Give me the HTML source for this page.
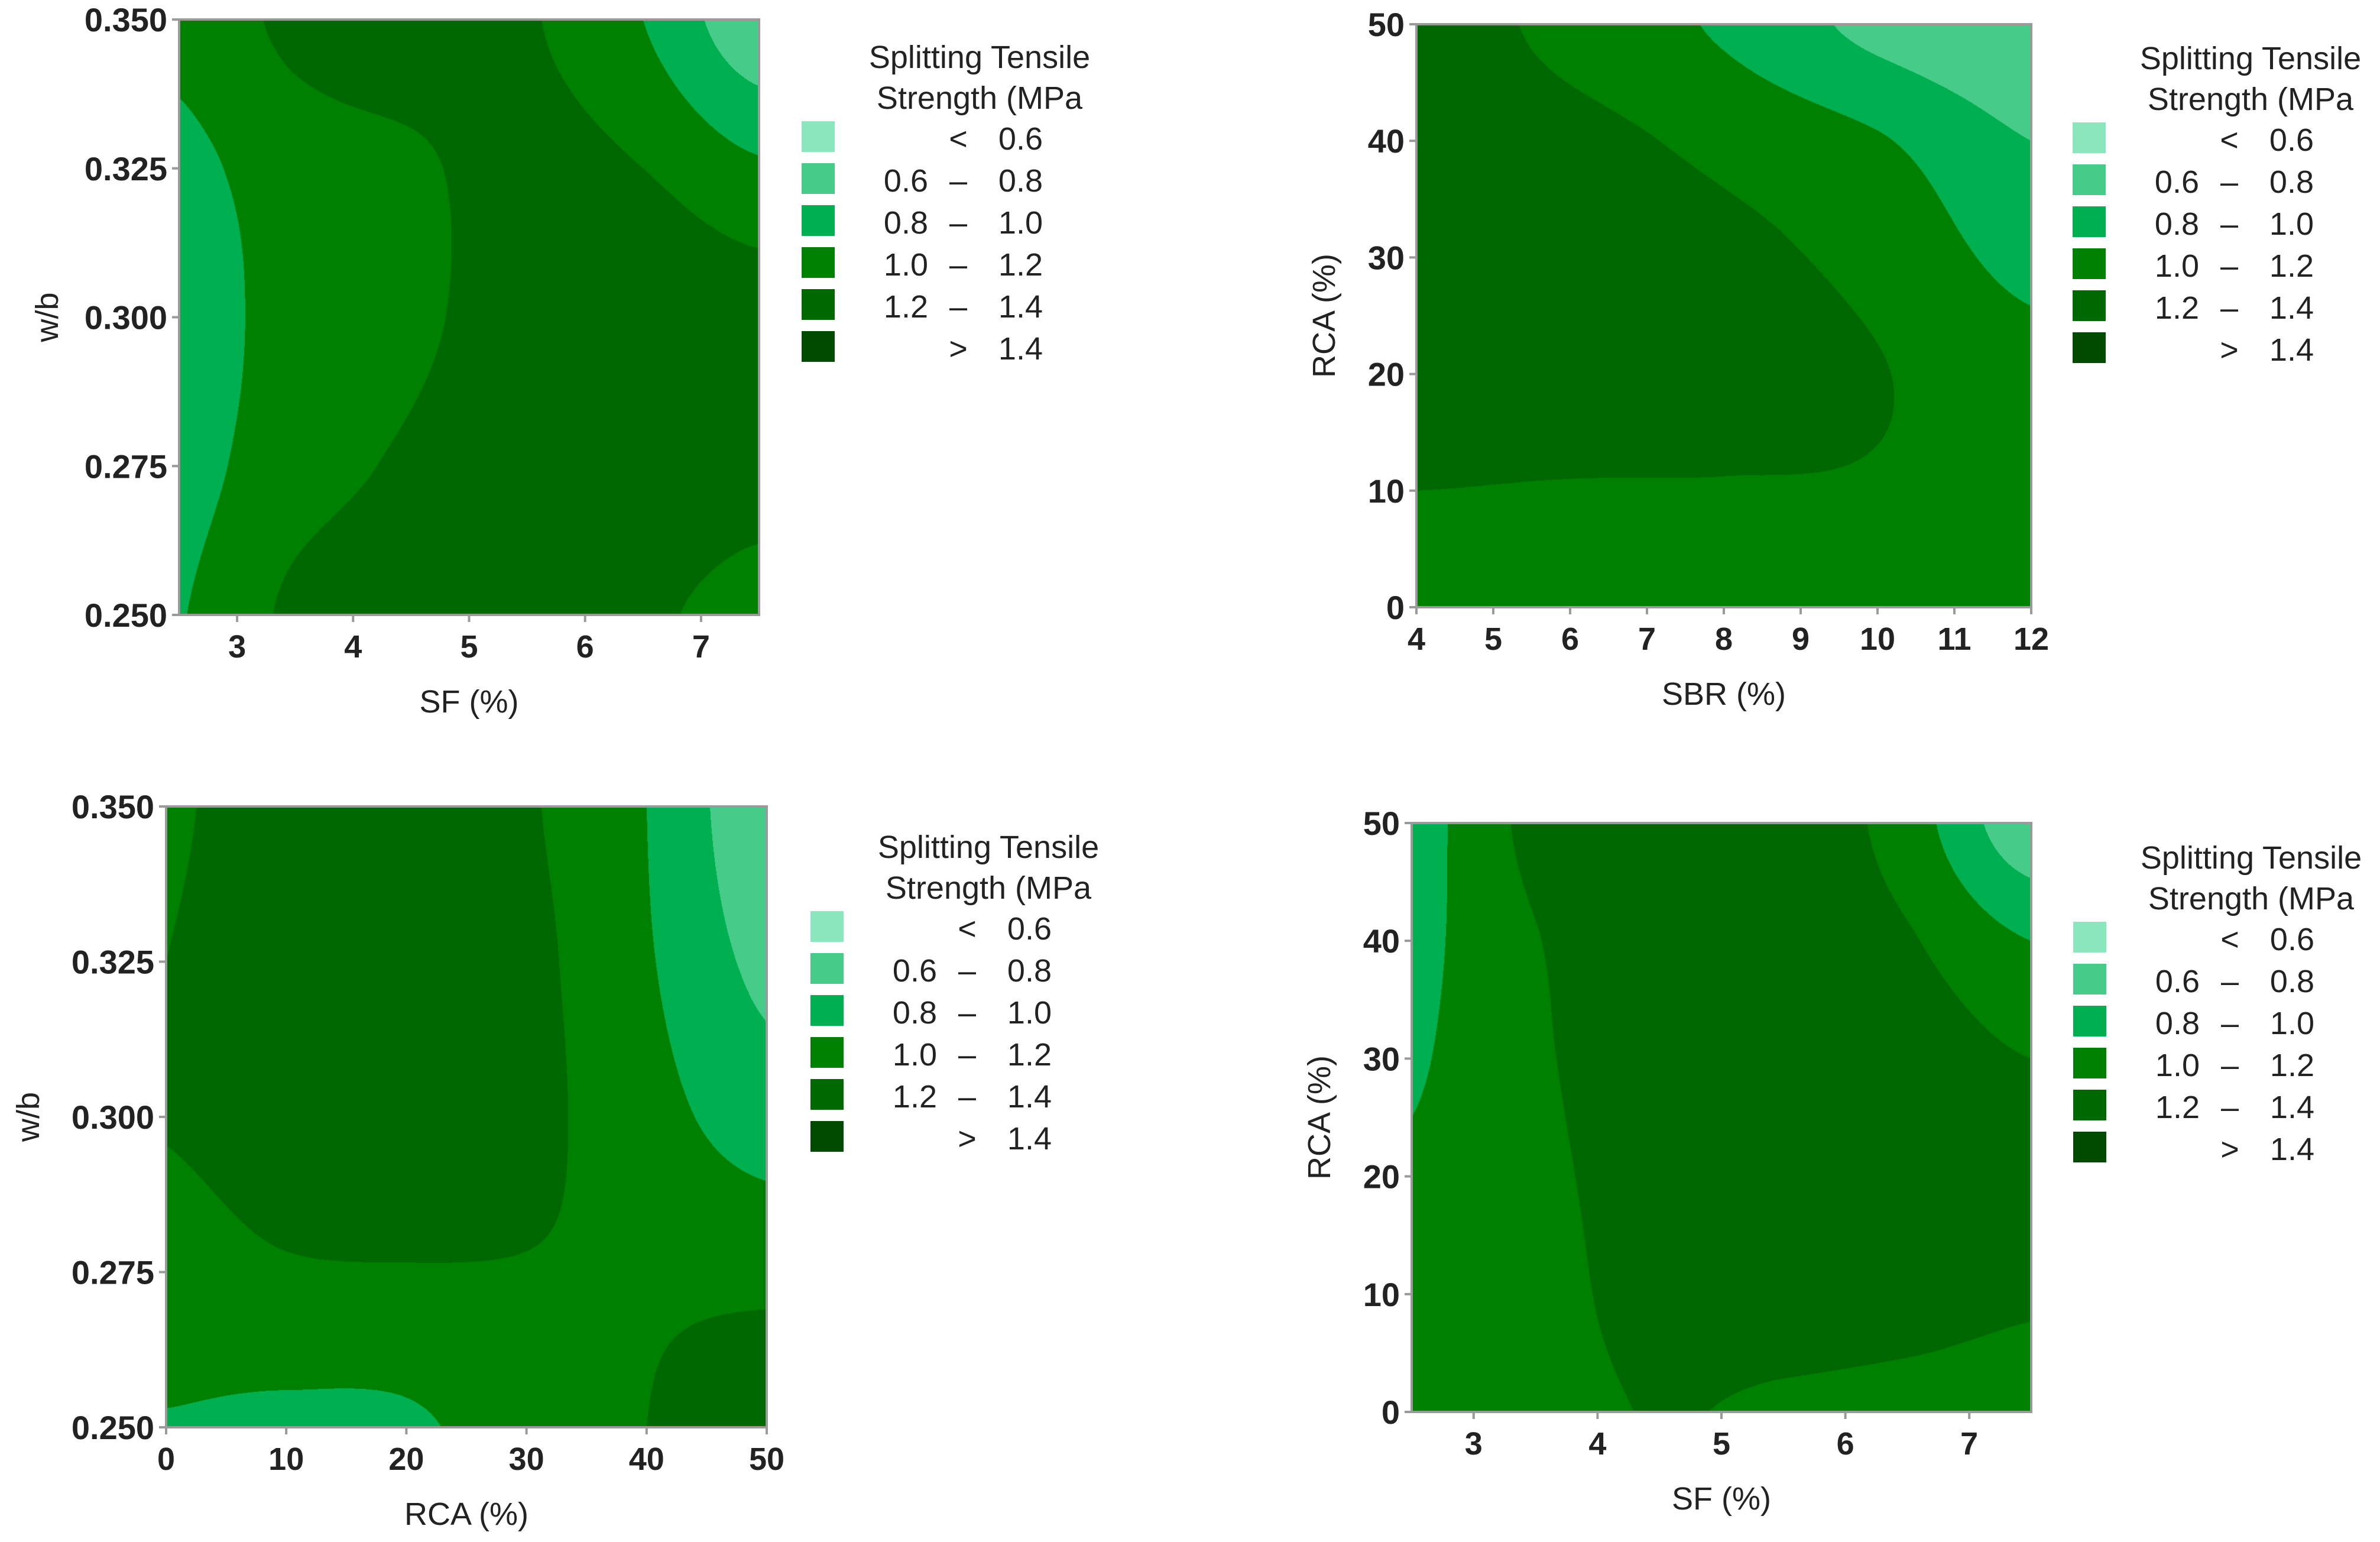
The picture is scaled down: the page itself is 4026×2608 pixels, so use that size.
<!DOCTYPE html>
<html><head><meta charset="utf-8">
<style>
html,body{margin:0;padding:0;background:#fff;}
#wrap{position:relative;width:4026px;height:2608px;overflow:hidden;}
canvas{position:absolute;}
svg{position:absolute;left:0;top:0;}
text{font-family:"Liberation Sans",sans-serif;fill:#222;}
</style></head>
<body>
<div id="wrap">
<canvas id="c0"></canvas>
<canvas id="c1"></canvas>
<canvas id="c2"></canvas>
<canvas id="c3"></canvas>
<svg id="s" width="4026" height="2608"></svg>
</div>
<script>
// ---- data ----
const levels = [0.6, 0.8, 1.0, 1.2, 1.4];
const levelColors = ["#8ae6bc","#46cc88","#00b050","#008000","#006800","#004b00"];
const legendLeft = ["", "0.6", "0.8", "1.0", "1.2", ""];
const legendMid = ["<", "–", "–", "–", "–", ">"];
const legendRight = ["0.6", "0.8", "1.0", "1.2", "1.4", "1.4"];

// Panel 1: SF (x) vs w/b (y); rows from bottom (y=0.25) to top (0.35)
const p1X = [2.5, 3.5, 4.5, 5.5, 6.5, 7.5];
const p1Y = [0.25, 0.275, 0.30, 0.325, 0.35];
const p1Z = [
 [0.99, 1.24, 1.30, 1.33, 1.24, 1.12],
 [0.93, 1.12, 1.23, 1.34, 1.35, 1.29],
 [0.90, 1.08, 1.16, 1.30, 1.35, 1.30],
 [0.95, 1.10, 1.17, 1.27, 1.20, 1.03],
 [1.05, 1.25, 1.30, 1.22, 1.00, 0.65]];
const p1XTicks = [3, 4, 5, 6, 7];
const p1YTicks = ["0.250", "0.275", "0.300", "0.325", "0.350"];

// Panel 2: SBR (x) vs RCA (y)
const p2X = [4, 6, 8, 10, 12];
const p2Y = [0, 10, 20, 30, 40, 50];
const p2Z = [
 [1.10, 1.12, 1.12, 1.10, 1.05],
 [1.20, 1.19, 1.19, 1.18, 1.10],
 [1.30, 1.30, 1.27, 1.21, 1.07],
 [1.32, 1.30, 1.25, 1.14, 0.94],
 [1.32, 1.26, 1.15, 1.02, 0.80],
 [1.30, 1.14, 0.97, 0.74, 0.62]];
const p2XTicks = [4, 5, 6, 7, 8, 9, 10, 11, 12];
const p2YTicks = ["0", "10", "20", "30", "40", "50"];

// Panel 3: RCA (x) vs w/b (y)
const p3X = [0, 10, 20, 30, 40, 50];
const p3Y = [0.25, 0.275, 0.30, 0.325, 0.35];
const p3Z = [
 [0.99, 0.96, 0.97, 1.10, 1.20, 1.32],
 [1.12, 1.18, 1.19, 1.19, 1.17, 1.15],
 [1.21, 1.28, 1.30, 1.25, 1.08, 0.90],
 [1.20, 1.30, 1.32, 1.25, 1.02, 0.75],
 [1.18, 1.28, 1.30, 1.22, 1.00, 0.65]];
const p3XTicks = [0, 10, 20, 30, 40, 50];
const p3YTicks = ["0.250", "0.275", "0.300", "0.325", "0.350"];

// Panel 4: SF (x) vs RCA (y)
const p4X = [2.5, 3.5, 4.5, 5.5, 6.5, 7.5];
const p4Y = [0, 10, 20, 30, 40, 50];
const p4Z = [
 [1.05, 1.12, 1.21, 1.16, 1.12, 1.08],
 [1.05, 1.13, 1.28, 1.33, 1.30, 1.23],
 [1.02, 1.15, 1.30, 1.35, 1.32, 1.26],
 [0.98, 1.17, 1.33, 1.36, 1.30, 1.20],
 [0.95, 1.19, 1.36, 1.35, 1.22, 1.00],
 [0.92, 1.26, 1.385, 1.34, 1.10, 0.65]];
const p4XTicks = [3, 4, 5, 6, 7];
const p4YTicks = ["0", "10", "20", "30", "40", "50"];

// ---- layout ----
const panels = [
 {cv:"c0", xs:p1X, ys:p1Y, z:p1Z, xt:p1XTicks, yt:p1YTicks, x0:303, x1:1284, y0:33, y1:1040, xmin:2.5, xmax:7.5, ymin:0.25, ymax:0.35, xlab:"SF (%)", ylab:"w/b", ylx:-205, lx:1356, ly:205, nm:"sf-wb"},
 {cv:"c1", xs:p2X, ys:p2Y, z:p2Z, xt:p2XTicks, yt:p2YTicks, x0:2396, x1:3436, y0:41, y1:1027, xmin:4, xmax:12, ymin:0, ymax:50, xlab:"SBR (%)", ylab:"RCA (%)", ylx:-138, lx:3506, ly:207, nm:"sbr-rca"},
 {cv:"c2", xs:p3X, ys:p3Y, z:p3Z, xt:p3XTicks, yt:p3YTicks, x0:281, x1:1297, y0:1364, y1:2414, xmin:0, xmax:50, ymin:0.25, ymax:0.35, xlab:"RCA (%)", ylab:"w/b", ylx:-215, lx:1371, ly:1541, nm:"rca-wb"},
 {cv:"c3", xs:p4X, ys:p4Y, z:p4Z, xt:p4XTicks, yt:p4YTicks, x0:2388, x1:3436, y0:1392, y1:2388, xmin:2.5, xmax:7.5, ymin:0, ymax:50, xlab:"SF (%)", ylab:"RCA (%)", ylx:-138, lx:3507, ly:1559, nm:"sf-rca"}
];

function cr(p0,p1,p2,p3,t){return 0.5*((2*p1)+(-p0+p2)*t+(2*p0-5*p1+4*p2-p3)*t*t+(-p0+3*p1-3*p2+p3)*t*t*t);}
function interp(P, fx, fy){
  const nx=P.xs.length, ny=P.ys.length;
  let i=Math.min(Math.floor(fx),nx-2), j=Math.min(Math.floor(fy),ny-2);
  const tx=fx-i, ty=fy-j;
  const g=(a,b)=>P.z[Math.max(0,Math.min(ny-1,b))][Math.max(0,Math.min(nx-1,a))];
  const rows=[];
  for(let b=j-1;b<=j+2;b++) rows.push(cr(g(i-1,b),g(i,b),g(i+1,b),g(i+2,b),tx));
  return cr(rows[0],rows[1],rows[2],rows[3],ty);
}
function hex(h){return [parseInt(h.slice(1,3),16),parseInt(h.slice(3,5),16),parseInt(h.slice(5,7),16)];}
const rgb=levelColors.map(hex);
function toIdx(arr,v){const n=arr.length; return (v-arr[0])/(arr[n-1]-arr[0])*(n-1);}

const NS="http://www.w3.org/2000/svg";
const svg=document.getElementById("s");
function el(tag,attrs,txt){const e=document.createElementNS(NS,tag);for(const k in attrs)e.setAttribute(k,attrs[k]);if(txt!==undefined)e.textContent=txt;svg.appendChild(e);return e;}

panels.forEach(P=>{
  const W=P.x1-P.x0, H=P.y1-P.y0;
  const c=document.getElementById(P.cv);
  c.width=W;c.height=H;c.style.left=P.x0+"px";c.style.top=P.y0+"px";
  const ctx=c.getContext("2d");const im=ctx.createImageData(W,H);
  for(let py=0;py<H;py++){
    const yv=P.ymax-(py+0.5)/H*(P.ymax-P.ymin);
    const fy=toIdx(P.ys,yv);
    for(let px=0;px<W;px++){
      const xv=P.xmin+(px+0.5)/W*(P.xmax-P.xmin);
      const v=interp(P,toIdx(P.xs,xv),fy);
      let k=0;while(k<levels.length&&v>=levels[k])k++;
      const o=(py*W+px)*4,col=rgb[k];
      im.data[o]=col[0];im.data[o+1]=col[1];im.data[o+2]=col[2];im.data[o+3]=255;
    }
  }
  ctx.putImageData(im,0,0);
  const sx=v=>P.x0+(v-P.xmin)/(P.xmax-P.xmin)*W;
  const sy=v=>P.y1-(v-P.ymin)/(P.ymax-P.ymin)*H;
  let r=el("rect",{x:P.x0,y:P.y0,width:W,height:H,fill:"none",stroke:"#9a9a9a","stroke-width":4});
  
  
  P.xt.forEach(t=>{
    const x=sx(t);
    const tk=el("line",{x1:x,x2:x,y1:P.y1,y2:P.y1+12,stroke:"#9a9a9a","stroke-width":4});
    
    
    const tl=el("text",{x:x,y:P.y1+72,"text-anchor":"middle","font-size":54,"font-weight":"bold"},String(t));
    
    
  });
  P.yt.forEach(t=>{
    const y=sy(parseFloat(t));
    const tk=el("line",{x1:P.x0-12,x2:P.x0,y1:y,y2:y,stroke:"#9a9a9a","stroke-width":4});
    
    
    const tl=el("text",{x:P.x0-20,y:y+20,"text-anchor":"end","font-size":56,"font-weight":"bold"},t);
    
    
  });
  const xt=el("text",{x:(P.x0+P.x1)/2,y:P.y1+165,"text-anchor":"middle","font-size":54,fill:"#333"},P.xlab);
  
  
  const yx=P.x0+P.ylx, yy=(P.y0+P.y1)/2;
  const yt=el("text",{x:yx,y:yy,"text-anchor":"middle","font-size":54,fill:"#333",transform:`rotate(-90 ${yx} ${yy})`},P.ylab);
  
  
  const t1=el("text",{x:P.lx+301,y:P.ly-90,"text-anchor":"middle","font-size":54,fill:"#333"},"Splitting Tensile");
  
  
  const t2=el("text",{x:P.lx+301,y:P.ly-21,"text-anchor":"middle","font-size":54,fill:"#333"},"Strength (MPa");
  
  
  levelColors.forEach((col,i)=>{
    const y=P.ly+i*71;
    const sw=el("rect",{x:P.lx,y:y,width:56,height:52,fill:col});
    
    
    const a=el("text",{x:P.lx+214,y:y+48,"text-anchor":"end","font-size":54,fill:"#333"},legendLeft[i]);
    
    
    const b=el("text",{x:P.lx+265,y:y+48,"text-anchor":"middle","font-size":54,fill:"#333"},legendMid[i]);
    
    
    const d=el("text",{x:P.lx+408,y:y+48,"text-anchor":"end","font-size":54,fill:"#333"},legendRight[i]);
    
    
  });
});
</script>
</body></html>
